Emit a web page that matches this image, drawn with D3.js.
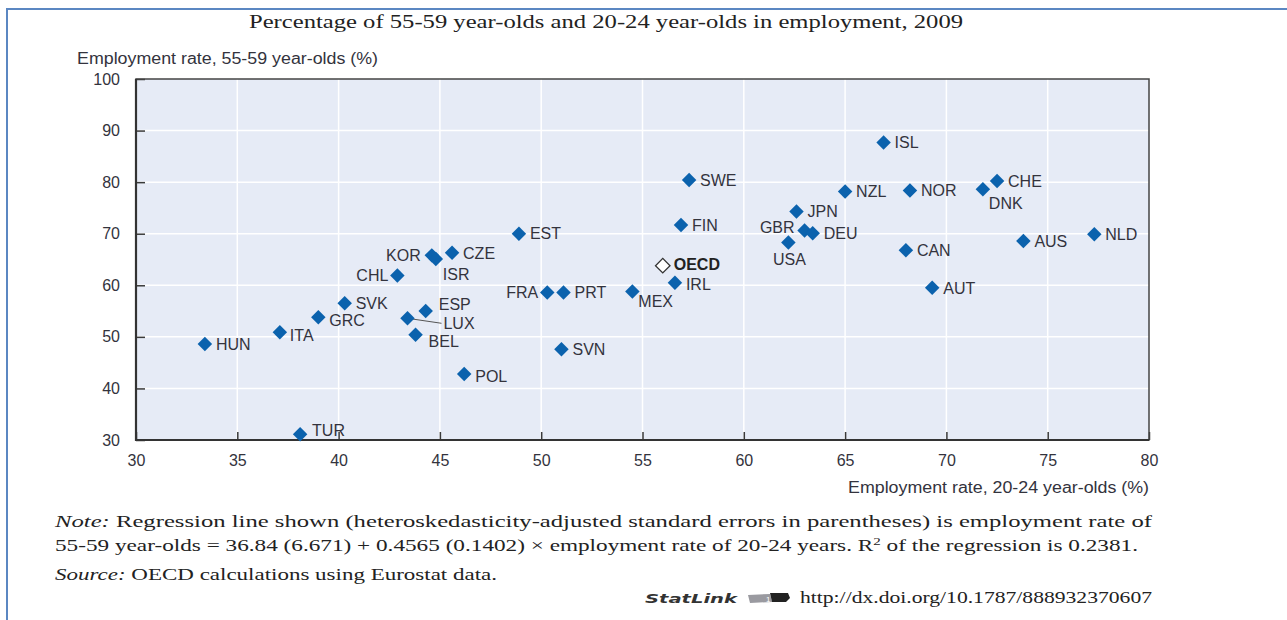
<!DOCTYPE html>
<html>
<head>
<meta charset="utf-8">
<script src="https://cdn.jsdelivr.net/npm/d3@7"></script>
<style>
  body { margin: 0; background: #fff; }
  svg { display: block; }
</style>
</head>
<body>
<script>
// countries and their employment rates, 2009
var countries = ["HUN","ITA","GRC","SVK","CHL","KOR","ISR","CZE","EST","ESP","LUX","BEL","POL","TUR",
                 "SVN","FRA","PRT","MEX","IRL","OECD","FIN","SWE","JPN","GBR","DEU","USA","NZL","ISL",
                 "NOR","CAN","AUT","DNK","CHE","AUS","NLD"];
var youngRate = [33.4, 37.1, 39.0, 40.3, 42.9, 44.6, 44.8, 45.6, 48.9, 44.3, 43.4, 43.8, 46.2, 38.1,
                 51.0, 50.3, 51.1, 54.5, 56.6, 56.0, 56.9, 57.3, 62.6, 63.0, 63.4, 62.2, 65.0, 66.9,
                 68.2, 68.0, 69.3, 71.8, 72.5, 73.8, 77.3];
var olderRate = [48.6, 50.9, 53.8, 56.5, 61.9, 65.8, 65.1, 66.3, 70.0, 55.0, 53.6, 50.4, 42.8, 31.1,
                 47.6, 58.6, 58.6, 58.8, 60.5, 63.8, 71.7, 80.4, 74.3, 70.6, 70.1, 68.3, 78.2, 87.7,
                 78.4, 66.8, 59.5, 78.6, 80.2, 68.6, 69.9];
var xTicks = [30, 35, 40, 45, 50, 55, 60, 65, 70, 75, 80];
var yTicks = [30, 40, 50, 60, 70, 80, 90, 100];

// where each label sits relative to its marker (default: right)
var labelPlace = {
  KOR: {dx: -11, dy: 0, anchor: "end"},
  CHL: {dx: -9, dy: 0, anchor: "end"},
  FRA: {dx: -9, dy: 0, anchor: "end"},
  GBR: {dx: -10, dy: -3, anchor: "end"},
  ISR: {dx: 7, dy: 15},
  MEX: {dx: 6, dy: 10},
  DNK: {dx: 6, dy: 14},
  USA: {dx: 1, dy: 17, anchor: "middle"},
  ESP: {dx: 13, dy: -7},
  BEL: {dx: 13, dy: 6},
  LUX: {dx: 36, dy: 5, leader: true},
  GRC: {dx: 11, dy: 3},
  ITA: {dx: 10, dy: 3},
  TUR: {dx: 12, dy: -4},
  POL: {dx: 11, dy: 2},
  IRL: {dx: 11, dy: 2},
  OECD: {dx: 11, dy: -1}
};

var width = 1287, height = 620;
var plot = {left: 136, right: 1149, top: 79, bottom: 440};
var labelFont = "'Liberation Sans',Arial,sans-serif";
var serifFont = "'Liberation Serif','DejaVu Serif',serif";
var ink = "#33333d";
var blue = "#0b62ad";

var svg = d3.select("body").append("svg")
    .attr("width", width)
    .attr("height", height);

// page frame
svg.append("path")
    .attr("d", "M7,620 V9 H1287")
    .attr("fill", "none")
    .attr("stroke", "#5b87c2")
    .attr("stroke-width", 2);

var x = d3.scaleLinear().domain([30, 80]).range([plot.left, plot.right]);
var y = d3.scaleLinear().domain([30, 100]).range([plot.bottom, plot.top]);

svg.append("rect")
    .attr("x", plot.left).attr("y", plot.top)
    .attr("width", plot.right - plot.left)
    .attr("height", plot.bottom - plot.top)
    .attr("fill", "#e6ebf6");

// gridlines
svg.append("g").selectAll("line")
    .data(xTicks.slice(1, -1))
    .enter().append("line")
      .attr("x1", function(d) { return x(d); })
      .attr("x2", function(d) { return x(d); })
      .attr("y1", plot.top).attr("y2", plot.bottom)
      .attr("stroke", "#fff").attr("stroke-width", 1.5);
svg.append("g").selectAll("line")
    .data(yTicks.slice(1, -1))
    .enter().append("line")
      .attr("y1", function(d) { return y(d); })
      .attr("y2", function(d) { return y(d); })
      .attr("x1", plot.left).attr("x2", plot.right)
      .attr("stroke", "#fff").attr("stroke-width", 1.5);

// axes
var xAxis = svg.append("g")
    .attr("transform", "translate(0," + plot.bottom + ")")
    .call(d3.axisBottom(x).tickValues(xTicks).tickSizeInner(-8).tickSizeOuter(0).tickPadding(15));
var yAxis = svg.append("g")
    .attr("transform", "translate(" + plot.left + ",0)")
    .call(d3.axisLeft(y).tickValues(yTicks).tickSizeInner(-9).tickSizeOuter(0).tickPadding(16));

[xAxis, yAxis].forEach(function(a) {
  a.select(".domain").remove();
  a.selectAll("line").attr("stroke", "#3a3a3a").attr("stroke-width", 1.5);
  a.selectAll("text")
    .attr("font-family", labelFont)
    .attr("font-size", "16px")
    .attr("fill", ink);
});

// plot border
svg.append("rect")
    .attr("x", plot.left).attr("y", plot.top)
    .attr("width", plot.right - plot.left)
    .attr("height", plot.bottom - plot.top)
    .attr("fill", "none")
    .attr("stroke", "#444")
    .attr("stroke-width", 1.5);
svg.append("path")
    .attr("d", "M" + plot.left + "," + plot.top + " V" + plot.bottom + " H" + plot.right)
    .attr("fill", "none")
    .attr("stroke", "#333")
    .attr("stroke-width", 2.2);

// axis titles
svg.append("text")
    .attr("x", 77).attr("y", 64)
    .attr("font-family", labelFont).attr("font-size", "16px").attr("fill", ink)
    .attr("textLength", 301).attr("lengthAdjust", "spacingAndGlyphs")
    .text("Employment rate, 55-59 year-olds (%)");
svg.append("text")
    .attr("x", plot.right - 301).attr("y", 493)
    .attr("font-family", labelFont).attr("font-size", "16px").attr("fill", ink)
    .attr("textLength", 301).attr("lengthAdjust", "spacingAndGlyphs")
    .text("Employment rate, 20-24 year-olds (%)");

// title
svg.append("text")
    .attr("x", 249).attr("y", 28)
    .attr("font-family", serifFont).attr("font-size", "19px").attr("fill", "#222")
    .attr("textLength", 714).attr("lengthAdjust", "spacingAndGlyphs")
    .text("Percentage of 55-59 year-olds and 20-24 year-olds in employment, 2009");

var points = countries.map(function(c, i) {
  var p = labelPlace[c] || {dx: 11, dy: 0};
  return {id: c, x: youngRate[i], y: olderRate[i], place: p};
});

// leader line for LUX
svg.append("g").selectAll("line")
    .data(points.filter(function(d) { return d.place.leader; }))
    .enter().append("line")
      .attr("x1", function(d) { return x(d.x); })
      .attr("y1", function(d) { return y(d.y); })
      .attr("x2", function(d) { return x(d.x) + d.place.dx - 2; })
      .attr("y2", function(d) { return y(d.y) + d.place.dy; })
      .attr("stroke", "#555").attr("stroke-width", 1);

svg.append("g").selectAll("path")
    .data(points)
    .enter().append("path")
      .attr("transform", function(d) { return "translate(" + x(d.x) + "," + y(d.y) + ") rotate(45)"; })
      .attr("d", d3.symbol().type(d3.symbolSquare).size(105))
      .attr("fill", function(d) { return d.id === "OECD" ? "#fff" : blue; })
      .attr("stroke", function(d) { return d.id === "OECD" ? "#333" : "none"; })
      .attr("stroke-width", 1.3);

svg.append("g").selectAll("text")
    .data(points)
    .enter().append("text")
      .attr("x", function(d) { return x(d.x) + d.place.dx; })
      .attr("y", function(d) { return y(d.y) + d.place.dy; })
      .attr("dy", "0.36em")
      .attr("text-anchor", function(d) { return d.place.anchor || "start"; })
      .attr("font-family", labelFont)
      .attr("font-size", "16px")
      .attr("font-weight", function(d) { return d.id === "OECD" ? "bold" : "normal"; })
      .attr("fill", function(d) { return d.id === "OECD" ? "#222" : ink; })
      .text(function(d) { return d.id; });

// notes
var note1 = svg.append("text")
    .attr("x", 55).attr("y", 527)
    .attr("font-family", serifFont).attr("font-size", "17px").attr("fill", "#222")
    .attr("textLength", 1097).attr("lengthAdjust", "spacingAndGlyphs");
note1.append("tspan").attr("font-style", "italic").text("Note:");
note1.append("tspan").text(" Regression line shown (heteroskedasticity-adjusted standard errors in parentheses) is employment rate of");

var note2 = svg.append("text")
    .attr("x", 55).attr("y", 551)
    .attr("font-family", serifFont).attr("font-size", "17px").attr("fill", "#222")
    .attr("textLength", 1083).attr("lengthAdjust", "spacingAndGlyphs");
note2.append("tspan").text("55-59 year-olds = 36.84 (6.671) + 0.4565 (0.1402) \u00d7 employment rate of 20-24 years. R");
note2.append("tspan").attr("baseline-shift", "super").attr("font-size", "11px").text("2");
note2.append("tspan").text(" of the regression is 0.2381.");

var source = svg.append("text")
    .attr("x", 55).attr("y", 580)
    .attr("font-family", serifFont).attr("font-size", "17px").attr("fill", "#222")
    .attr("textLength", 442).attr("lengthAdjust", "spacingAndGlyphs");
source.append("tspan").attr("font-style", "italic").text("Source:");
source.append("tspan").text(" OECD calculations using Eurostat data.");

// statlink
svg.append("text")
    .attr("x", 645).attr("y", 603)
    .attr("font-family", "'DejaVu Sans',sans-serif").attr("font-size", "13px")
    .attr("font-weight", "bold").attr("font-style", "italic").attr("fill", "#333")
    .attr("textLength", 92).attr("lengthAdjust", "spacingAndGlyphs")
    .text("StatLink");
var icon = svg.append("g").attr("transform", "translate(748,593)");
icon.append("path")
    .attr("d", "M0,2 L22,1 L24,9 L2,10 Z")
    .attr("fill", "#9a9aa0");
icon.append("path")
    .attr("d", "M22,0 L40,0 L42,5 L38,9 L24,9 Z")
    .attr("fill", "#222");
icon.append("text")
    .attr("x", 18).attr("y", 9)
    .attr("font-family", "sans-serif").attr("font-size", "8px").attr("fill", "#fff")
    .text("1");
svg.append("text")
    .attr("x", 800).attr("y", 603)
    .attr("font-family", serifFont).attr("font-size", "17px").attr("fill", "#222")
    .attr("textLength", 352).attr("lengthAdjust", "spacingAndGlyphs")
    .text("http://dx.doi.org/10.1787/888932370607");
</script>
</body>
</html>
